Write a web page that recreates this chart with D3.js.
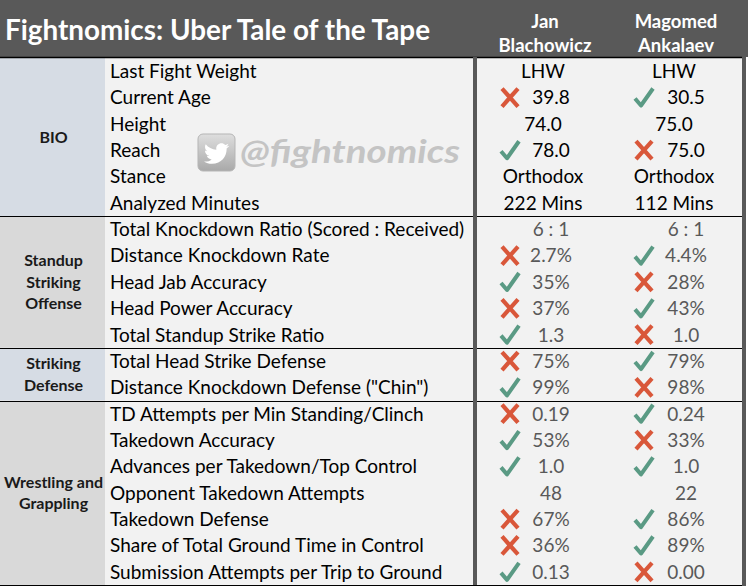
<!DOCTYPE html>
<html>
<head>
<meta charset="utf-8">
<script src="https://cdn.jsdelivr.net/npm/d3@7"></script>
<style>
  body { margin: 0; background: #fff; }
  text { font-family: Lato, "Open Sans", sans-serif; }
</style>
</head>
<body>
<svg id="chart" width="748" height="587"></svg>
<script>
// --- data ---
var title = "Fightnomics: Uber Tale of the Tape";
var fighters = [["Jan", "Blachowicz"], ["Magomed", "Ankalaev"]];

var sections = [["BIO"], ["Standup", "Striking", "Offense"], ["Striking", "Defense"], ["Wrestling and", "Grappling"]];

var metrics = [
  "Last Fight Weight", "Current Age", "Height", "Reach", "Stance", "Analyzed Minutes",
  "Total Knockdown Ratio (Scored : Received)", "Distance Knockdown Rate", "Head Jab Accuracy",
  "Head Power Accuracy", "Total Standup Strike Ratio",
  "Total Head Strike Defense", "Distance Knockdown Defense (\"Chin\")",
  "TD Attempts per Min Standing/Clinch", "Takedown Accuracy", "Advances per Takedown/Top Control",
  "Opponent Takedown Attempts", "Takedown Defense", "Share of Total Ground Time in Control",
  "Submission Attempts per Trip to Ground"
];
var metricSection = [0,0,0,0,0,0, 1,1,1,1,1, 2,2, 3,3,3,3,3,3,3];

var janValues = ["LHW", "39.8", "74.0", "78.0", "Orthodox", "222 Mins",
  "6 : 1", "2.7%", "35%", "37%", "1.3",
  "75%", "99%",
  "0.19", "53%", "1.0", "48", "67%", "36%", "0.13"];
var magValues = ["LHW", "30.5", "75.0", "75.0", "Orthodox", "112 Mins",
  "6 : 1", "4.4%", "28%", "43%", "1.0",
  "79%", "98%",
  "0.24", "33%", "1.0", "22", "86%", "89%", "0.00"];
// x = red cross, c = green check, "" = no icon
var janMarks = ["", "x", "", "c", "", "",
  "", "x", "c", "x", "c",
  "x", "c",
  "x", "c", "c", "", "x", "x", "c"];
var magMarks = ["", "c", "", "x", "", "",
  "", "c", "x", "c", "x",
  "c", "x",
  "c", "x", "c", "", "c", "c", "x"];

var handle = "@fightnomics";

// --- layout ---
var W = 748, headH = 57, bottom = 585;
var catW = 105, sepX = 473, rightX = 742;
var cols = [
  {plain: 543, val: 551, icon: 510},
  {plain: 674, val: 686, icon: 644}
];
var catFill = ["#d6dce4", "#d9d9d9", "#d6dce4", "#d9d9d9"];
var red = "#d9573a", green = "#5a9a84";

var svg = d3.select("#chart");

var y = d3.scaleBand().domain(d3.range(metrics.length)).range([headH + 1, bottom]);

// header
svg.append("rect").attr("x", 0).attr("y", 0).attr("width", W).attr("height", headH).attr("fill", "#595959");
svg.append("text").attr("x", 5).attr("y", 40)
  .attr("fill", "#fff").attr("font-weight", "bold").attr("font-size", 28.5)
  .attr("textLength", 425).attr("lengthAdjust", "spacingAndGlyphs")
  .text(title);

fighters.forEach(function(f, i) {
  f.forEach(function(line, j) {
    svg.append("text").attr("x", cols[i].plain + 2).attr("y", 28 + j * 23.5)
      .attr("text-anchor", "middle").attr("fill", "#fff")
      .attr("font-weight", "bold").attr("font-size", 18.5)
      .text(line);
  });
});

// body background
svg.append("rect").attr("x", catW).attr("y", headH).attr("width", rightX - catW).attr("height", bottom - headH).attr("fill", "#f2f2f2");

// section extents
var secRows = sections.map(function(s, i) {
  var idx = d3.range(metrics.length).filter(function(r) { return metricSection[r] === i; });
  return {i: i, y0: y(d3.min(idx)), y1: y(d3.max(idx)) + y.bandwidth()};
});

svg.selectAll("rect.cat").data(secRows).enter().append("rect")
  .attr("class", "cat")
  .attr("x", 0).attr("y", function(d) { return d.y0; })
  .attr("width", catW).attr("height", function(d) { return d.y1 - d.y0; })
  .attr("fill", function(d) { return catFill[d.i]; });

secRows.forEach(function(d) {
  var lines = sections[d.i], mid = (d.y0 + d.y1) / 2, lh = 21.5;
  lines.forEach(function(line, j) {
    svg.append("text").attr("x", catW / 2 + 1).attr("y", mid + (j - (lines.length - 1) / 2) * lh)
      .attr("dy", "0.36em").attr("text-anchor", "middle")
      .attr("font-weight", "bold").attr("font-size", 16).attr("fill", "#1a1a1a")
      .text(line);
  });
});

// watermark
var tw = svg.append("g").attr("transform", "translate(198,134)");
var grad = svg.append("defs").append("linearGradient").attr("id", "twg").attr("x1", 0).attr("x2", 0).attr("y1", 0).attr("y2", 1);
grad.append("stop").attr("offset", "0%").attr("stop-color", "#dedede");
grad.append("stop").attr("offset", "100%").attr("stop-color", "#a9a9a9");
tw.append("rect").attr("width", 37).attr("height", 37).attr("rx", 5)
  .attr("fill", "url(#twg)").attr("stroke", "#b5b5b5").attr("stroke-width", 1);
tw.append("path").attr("transform", "translate(6,7) scale(1.05)")
  .attr("fill", "#fff")
  .attr("d", "M23.954 4.569c-.885.389-1.83.654-2.825.775 1.014-.611 1.794-1.574 2.163-2.723-.951.555-2.005.959-3.127 1.184-.896-.959-2.173-1.559-3.591-1.559-2.717 0-4.92 2.203-4.92 4.917 0 .39.045.765.127 1.124C7.691 8.094 4.066 6.13 1.64 3.161c-.427.722-.666 1.561-.666 2.475 0 1.71.87 3.213 2.188 4.096-.807-.026-1.566-.248-2.228-.616v.061c0 2.385 1.693 4.374 3.946 4.827-.413.111-.849.171-1.296.171-.314 0-.615-.03-.916-.086.631 1.953 2.445 3.377 4.604 3.417-1.68 1.319-3.809 2.105-6.102 2.105-.39 0-.779-.023-1.17-.067 2.189 1.394 4.768 2.209 7.557 2.209 9.054 0 13.999-7.496 13.999-13.986 0-.209 0-.42-.015-.63.961-.689 1.8-1.53 2.46-2.258z");
svg.append("text").attr("x", 240).attr("y", 163)
  .attr("font-size", 32).attr("font-weight", "bold").attr("font-style", "italic")
  .attr("textLength", 220).attr("lengthAdjust", "spacingAndGlyphs")
  .attr("fill", "#c4c4c4").text(handle);

// metric labels
svg.selectAll("text.label").data(metrics).enter().append("text")
  .attr("class", "label")
  .attr("x", 110).attr("y", function(d, i) { return y(i) + y.bandwidth() / 2; })
  .attr("dy", "0.36em").attr("font-size", 19).attr("fill", "#000")
  .text(function(d) { return d; });

// values + icons
function drawIcon(g, kind, cx, cy) {
  if (kind === "x") {
    g.append("path").attr("d", "M" + (cx - 8) + "," + (cy - 9) + "L" + (cx + 8) + "," + (cy + 9) +
        "M" + (cx + 8) + "," + (cy - 9) + "L" + (cx - 8) + "," + (cy + 9))
      .attr("stroke", red).attr("stroke-width", 4.2).attr("fill", "none");
  } else if (kind === "c") {
    g.append("path").attr("d", "M" + (cx - 9) + "," + (cy + 1) + "L" + (cx - 3) + "," + (cy + 8) + "L" + (cx + 9) + "," + (cy - 9))
      .attr("stroke", green).attr("stroke-width", 4).attr("fill", "none")
      .attr("stroke-linejoin", "round");
  }
}

[[janValues, janMarks], [magValues, magMarks]].forEach(function(pair, c) {
  var vals = pair[0], marks = pair[1], col = cols[c];
  vals.forEach(function(v, r) {
    var cy = y(r) + y.bandwidth() / 2;
    var bio = metricSection[r] === 0;
    var cx = (bio && !marks[r]) ? col.plain : col.val;
    svg.append("text").attr("x", cx).attr("y", cy).attr("dy", "0.36em")
      .attr("text-anchor", "middle").attr("font-size", 19)
      .attr("fill", bio ? "#000" : "#595959")
      .text(v);
    drawIcon(svg, marks[r], col.icon, cy);
  });
});

// grid lines
var lines = svg.append("g");
lines.append("line").attr("x1", 0).attr("x2", rightX).attr("y1", headH + 0.5).attr("y2", headH + 0.5)
  .attr("stroke", "#000").attr("stroke-width", 1.5);
secRows.slice(1).forEach(function(d) {
  lines.append("line").attr("x1", 0).attr("x2", rightX).attr("y1", Math.round(d.y0) + 0.5).attr("y2", Math.round(d.y0) + 0.5)
    .attr("stroke", "#000").attr("stroke-width", 1.2);
});
lines.append("line").attr("x1", 0).attr("x2", rightX).attr("y1", bottom + 0.5).attr("y2", bottom + 0.5)
  .attr("stroke", "#000").attr("stroke-width", 1.2);
lines.append("rect").attr("x", sepX).attr("y", headH).attr("width", 4).attr("height", bottom - headH).attr("fill", "#595959");
lines.append("rect").attr("x", rightX).attr("y", 0).attr("width", 4).attr("height", bottom + 1).attr("fill", "#595959");
</script>
</body>
</html>
